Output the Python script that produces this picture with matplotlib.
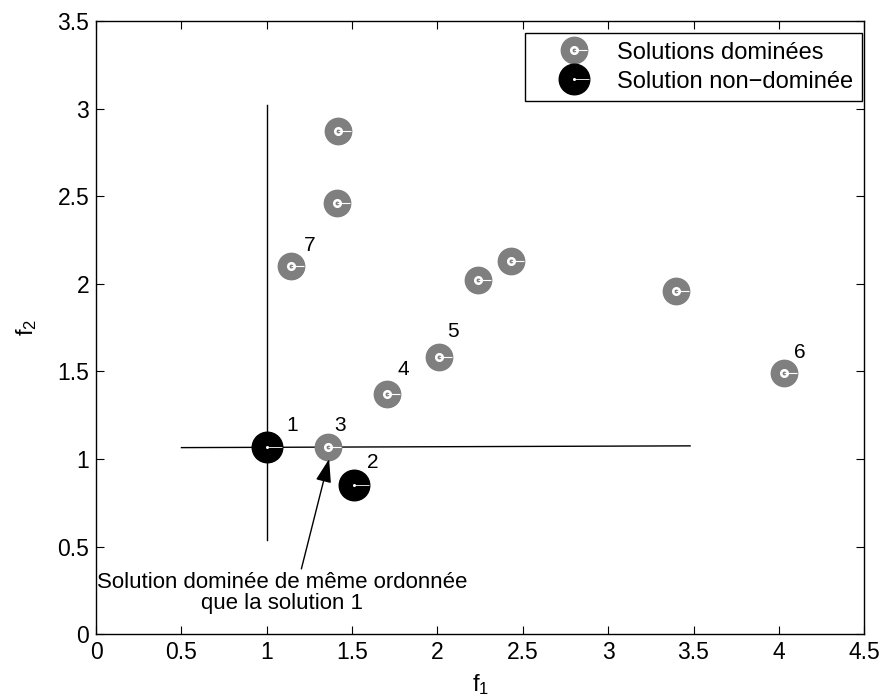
import matplotlib.pyplot as plt
from matplotlib.path import Path

plt.rcParams['font.family'] = ['Liberation Sans', 'DejaVu Sans']
plt.rcParams['mathtext.fontset'] = 'custom'
plt.rcParams['mathtext.rm'] = 'Liberation Sans'

# dominated solutions (grey) and non-dominated ones (black)
dom_x = [1.36, 1.705, 2.01, 4.03, 1.14, 2.24, 2.43, 3.40, 1.42, 1.41]
dom_y = [1.07, 1.37, 1.58, 1.49, 2.10, 2.02, 2.13, 1.96, 2.87, 2.46]
nd_x = [1.0, 1.51]
nd_y = [1.07, 0.85]

# numbered points and where their numbers sit
num_labels = ['1', '2', '3', '4', '5', '6', '7']
num_x = [1.15, 1.62, 1.43, 1.80, 2.09, 4.12, 1.25]
num_y = [1.19, 0.98, 1.19, 1.51, 1.73, 1.61, 2.22]

# lines through solution 1
vline_x = [1.0, 1.0]
vline_y = [0.54, 3.02]
hline_x = [0.5, 3.48]
hline_y = [1.065, 1.075]

grey = '#7f7f7f'
tick = Path([(0, 0), (1, 0)])

fig = plt.figure(figsize=(8.9, 7.0), dpi=100)
ax = fig.add_axes([0.108, 0.094, 0.863, 0.876])

ax.plot(vline_x, vline_y, color='black', lw=1)
ax.plot(hline_x, hline_y, color='black', lw=1)

g1, = ax.plot(dom_x, dom_y, 'o', ms=19, color=grey, mec=grey, ls='none', zorder=3)
g2, = ax.plot(dom_x, dom_y, 'o', ms=5.5, color='white', mec='white', ls='none', zorder=4)
g3, = ax.plot(dom_x, dom_y, 'o', ms=1.8, color=grey, mec=grey, ls='none', zorder=5)
g4, = ax.plot(dom_x, dom_y, marker=tick, ms=18, mec='white', mew=0.8, ls='none', zorder=5)

b1, = ax.plot(nd_x, nd_y, 'o', ms=22, color='black', mec='black', ls='none', zorder=3)
b2, = ax.plot(nd_x, nd_y, 'o', ms=1.2, color='white', mec='white', ls='none', zorder=4)
b3, = ax.plot(nd_x, nd_y, marker=tick, ms=21, mec='white', mew=0.6, ls='none', zorder=4)

for s, x, y in zip(num_labels, num_x, num_y):
    ax.text(x, y, s, fontsize=15, ha='center', va='center')

ax.annotate('Solution dominée de même ordonnée\nque la solution 1',
            xy=(1.365, 1.0), xytext=(1.09, 0.235),
            ha='center', va='center', multialignment='center', fontsize=16,
            linespacing=1.05,
            arrowprops=dict(arrowstyle='-|>,head_length=0.9,head_width=0.3',
                            color='black', lw=1, shrinkA=0, shrinkB=0,
                            relpos=(0.55, 1.0)))

ax.set_xlim(0, 4.5)
ax.set_ylim(0, 3.5)
ax.set_xticks([0, 0.5, 1, 1.5, 2, 2.5, 3, 3.5, 4, 4.5])
ax.set_xticklabels(['0', '0.5', '1', '1.5', '2', '2.5', '3', '3.5', '4', '4.5'])
ax.set_yticks([0, 0.5, 1, 1.5, 2, 2.5, 3, 3.5])
ax.set_yticklabels(['0', '0.5', '1', '1.5', '2', '2.5', '3', '3.5'])
ax.tick_params(direction='in', top=True, right=True, length=6, width=0.8,
               labelsize=16.5, pad=5)
for sp in ax.spines.values():
    sp.set_linewidth(1)

ax.set_xlabel(r'$\mathregular{f_1}$', fontsize=17, labelpad=6)
ax.set_ylabel(r'$\mathregular{f_2}$', fontsize=17, labelpad=13)

leg = ax.legend([(g1, g2, g3, g4), (b1, b2, b3)],
                ['Solutions dominées', 'Solution non\u2212dominée'],
                loc='upper right', bbox_to_anchor=(0.997, 0.980),
                borderaxespad=0, fontsize=17, frameon=True, fancybox=False,
                edgecolor='black', framealpha=1,
                handlelength=3.4, handletextpad=0.15, labelspacing=0.3,
                borderpad=0.35)
leg.get_frame().set_linewidth(1)

fig.savefig('out.png', dpi=100)
